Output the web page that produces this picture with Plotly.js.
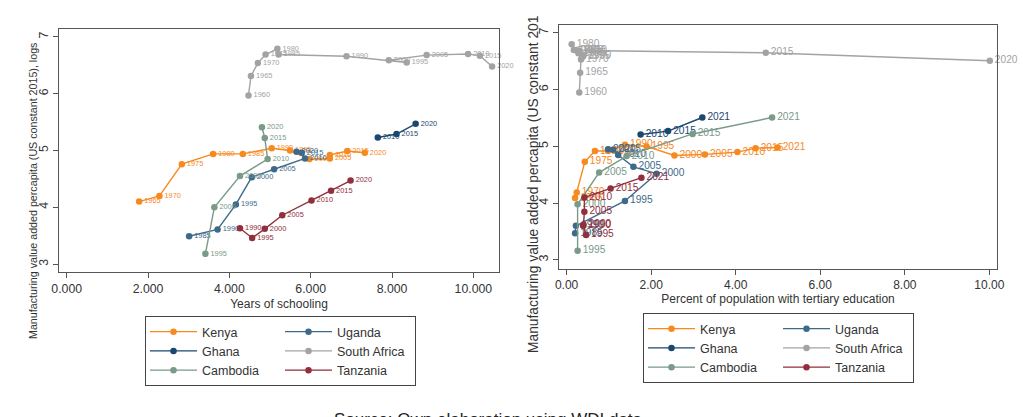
<!DOCTYPE html>
<html>
<head>
<meta charset="utf-8">
<script src="https://cdn.plot.ly/plotly-3.0.1.min.js"></script>
<style>html,body{margin:0;padding:0;background:#fff;}#chart{width:1023px;height:417px;}</style>
</head>
<body>
<div id="chart"></div>
<script>
// ---------- Left panel: years of schooling ----------
const kenyaYearsL = [1965,1970,1975,1980,1985,1990,1995,2000,2005,2010,2015,2020];
const kenyaSchool = [1.78,2.28,2.83,3.60,4.33,5.04,5.49,5.97,6.47,6.47,6.90,7.33];
const kenyaMvaL   = [4.10,4.20,4.76,4.94,4.94,5.04,5.00,4.85,4.86,4.92,4.99,4.96];

const ugandaYearsL = [1985,1990,1995,2000,2005,2010,2015,2020];
const ugandaSchool = [3.01,3.71,4.16,4.55,5.10,5.86,5.78,5.65];
const ugandaMvaL   = [3.49,3.61,4.05,4.53,4.67,4.86,4.96,4.98];

const ghanaYearsL = [2010,2015,2020];
const ghanaSchool = [7.65,8.11,8.58];
const ghanaMvaL   = [5.23,5.29,5.47];

const safYearsL = [1960,1965,1970,1975,1980,1985,1990,1995,2000,2005,2010,2015,2020];
const safSchool = [4.47,4.53,4.70,4.89,5.18,5.21,6.88,8.36,7.92,8.85,9.87,10.16,10.46];
const safMvaL   = [5.97,6.31,6.54,6.69,6.79,6.69,6.66,6.55,6.59,6.68,6.70,6.67,6.48];

const cambYearsL = [1995,2000,2005,2010,2015,2020];
const cambSchool = [3.41,3.63,4.26,4.94,4.87,4.80];
const cambMvaL   = [3.18,4.00,4.55,4.85,5.22,5.41];

const tanzYearsL = [1990,1995,2000,2005,2010,2015,2020];
const tanzSchool = [4.26,4.56,4.87,5.30,6.02,6.50,6.98];
const tanzMvaL   = [3.63,3.46,3.62,3.86,4.12,4.29,4.47];

// ---------- Right panel: tertiary education ----------
const kenyaYearsR = [1965,1970,1975,1980,1985,1990,1995,2000,2005,2010,2015,2021];
const kenyaTert   = [0.20,0.24,0.43,0.67,0.98,1.38,1.89,2.55,3.27,4.04,4.47,4.99];
const kenyaMvaR   = [4.09,4.19,4.73,4.92,4.92,5.03,5.00,4.84,4.86,4.90,4.97,4.98];

const ugandaYearsR = [1985,1990,1995,2000,2005,2010,2015,2020];
const ugandaTert   = [0.20,0.22,1.38,2.13,1.58,1.22,1.10,0.98];
const ugandaMvaR   = [3.47,3.60,4.04,4.52,4.64,4.85,4.94,4.95];

const ghanaYearsR = [2010,2015,2021];
const ghanaTert   = [1.75,2.40,3.21];
const ghanaMvaR   = [5.21,5.27,5.51];

const safYearsR = [1960,1965,1970,1975,1980,1985,1990,1995,2000,2005,2010,2015,2020];
const safTert   = [0.30,0.32,0.34,0.28,0.12,0.17,0.26,0.38,0.40,0.22,0.30,4.71,10.01];
const safMvaR   = [5.95,6.30,6.53,6.64,6.80,6.70,6.68,6.58,6.60,6.70,6.69,6.65,6.51];

const cambYearsR = [1995,2000,2005,2010,2015,2021];
const cambTert   = [0.26,0.26,0.77,1.42,2.98,4.86];
const cambMvaR   = [3.16,3.98,4.54,4.83,5.22,5.51];

const tanzYearsR = [1990,1995,2000,2005,2010,2015,2021];
const tanzTert   = [0.39,0.46,0.40,0.42,0.42,1.04,1.77];
const tanzMvaR   = [3.60,3.44,3.62,3.85,4.10,4.26,4.45];

const countries = ["Kenya","Uganda","Ghana","South Africa","Cambodia","Tanzania"];
const colors = {"Kenya":"#f7891f","Uganda":"#3e6a8a","Ghana":"#1a476f","South Africa":"#a3a3a3","Cambodia":"#7a9a8a","Tanzania":"#922f3c"};
const col1 = ["Kenya","Ghana","Cambodia"];

const leftData = {
  "Kenya":[kenyaSchool,kenyaMvaL,kenyaYearsL],
  "Uganda":[ugandaSchool,ugandaMvaL,ugandaYearsL],
  "Ghana":[ghanaSchool,ghanaMvaL,ghanaYearsL],
  "South Africa":[safSchool,safMvaL,safYearsL],
  "Cambodia":[cambSchool,cambMvaL,cambYearsL],
  "Tanzania":[tanzSchool,tanzMvaL,tanzYearsL]
};
const rightData = {
  "Kenya":[kenyaTert,kenyaMvaR,kenyaYearsR],
  "Uganda":[ugandaTert,ugandaMvaR,ugandaYearsR],
  "Ghana":[ghanaTert,ghanaMvaR,ghanaYearsR],
  "South Africa":[safTert,safMvaR,safYearsR],
  "Cambodia":[cambTert,cambMvaR,cambYearsR],
  "Tanzania":[tanzTert,tanzMvaR,tanzYearsR]
};

function mk(name, d, xa, ya, leg, grpPrefix, tsize){
  const c = colors[name];
  return {
    type:'scatter', mode:'lines+markers+text', name:name,
    x:d[0], y:d[1], text:d[2].map(String),
    xaxis:xa, yaxis:ya, legend:leg,
    legendgroup: grpPrefix + (col1.includes(name) ? '1' : '2'),
    line:{color:c, width:1.4},
    marker:{color:c, size:6.5},
    textposition:'middle right',
    textfont:{color:c, size:tsize, family:'Liberation Sans, Arial, sans-serif'},
    cliponaxis:false
  };
}

const traces = [];
countries.forEach(n => traces.push(mk(n, leftData[n], 'x', 'y', 'legend', 'L', 7.4)));
countries.forEach(n => traces.push(mk(n, rightData[n], 'x2', 'y2', 'legend2', 'R', 10.2)));

const W = 1023, H = 417;
const axCommon = {
  showline:true, mirror:true, linecolor:'#555', linewidth:1,
  ticks:'outside', ticklen:5, tickcolor:'#555', tickwidth:1,
  showgrid:false, zeroline:false,
  tickfont:{size:12.3, color:'#333'}
};
const legCommon = {
  orientation:'h', traceorder:'grouped', borderwidth:1, bordercolor:'#444',
  bgcolor:'#fff', font:{size:12.5, color:'#333'}, itemwidth:47,
  entrywidth:73, tracegroupgap:0, xanchor:'left', yanchor:'top'
};

const layout = {
  width:W, height:H, margin:{l:0,r:0,t:0,b:0, autoexpand:false},
  paper_bgcolor:'#fff', plot_bgcolor:'#fff',
  font:{family:'Liberation Sans, Arial, sans-serif', color:'#333'},
  showlegend:true,
  xaxis:Object.assign({}, axCommon, {
    domain:[59/W, 499/W], range:[-0.19,10.63], anchor:'y',
    tickvals:[0,2,4,6,8,10], tickformat:'.3f',
    title:{text:'Years of schooling', font:{size:12, color:'#333'}, standoff:4}
  }),
  yaxis:Object.assign({}, axCommon, {
    domain:[1-272/H, 1-29/H], range:[2.86,7.14], anchor:'x',
    tickvals:[3,4,5,6,7], tickangle:-90
  }),
  xaxis2:Object.assign({}, axCommon, {
    domain:[559/W, 997/W], range:[-0.18,10.18], anchor:'y2',
    tickvals:[0,2,4,6,8,10], tickformat:'.2f', tickfont:{size:12, color:'#333'},
    title:{text:'Percent of population with tertiary education', font:{size:12, color:'#333'}, standoff:2}
  }),
  yaxis2:Object.assign({}, axCommon, {
    domain:[1-269/H, 1-25/H], range:[2.84,7.14], anchor:'x2',
    tickvals:[3,4,5,6,7], tickangle:-90, tickfont:{size:12.5, color:'#333'}
  }),
  legend:Object.assign({}, legCommon, {x:145/W, y:1-316/H}),
  legend2:Object.assign({}, legCommon, {x:643/W, y:1-313/H}),
  annotations:[
    {text:'Manufacturing value added percapita (US constant 2015), logs', xref:'paper', yref:'paper',
     x:33/W, y:1-191/H, textangle:-90, showarrow:false, xanchor:'center', yanchor:'middle',
     font:{size:10.7, color:'#333'}},
    {text:'Manufacturing value added percapita (US constant 201', xref:'paper', yref:'paper',
     x:533/W, y:1-185/H, textangle:-90, showarrow:false, xanchor:'center', yanchor:'middle',
     font:{size:13.8, color:'#333'}},
    {text:'Source: Own elaboration using WDI data', xref:'paper', yref:'paper',
     x:488/W, y:1-408/H, showarrow:false, xanchor:'center', yanchor:'top',
     font:{size:17, color:'#222'}}
  ]
};

Plotly.newPlot('chart', traces, layout, {displayModeBar:false, staticPlot:true});
</script>
</body>
</html>
